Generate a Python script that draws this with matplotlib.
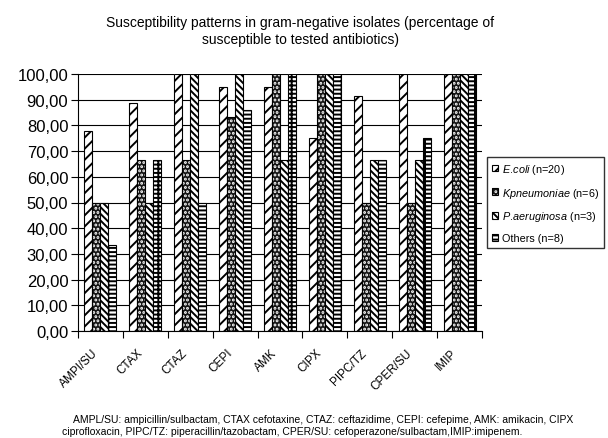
import numpy as np
import matplotlib
matplotlib.use('Agg')
import matplotlib.pyplot as plt
from matplotlib.ticker import FuncFormatter, FixedLocator
from matplotlib.transforms import ScaledTranslation

plt.rcParams['font.family'] = ['Liberation Sans', 'DejaVu Sans']
plt.rcParams['mathtext.fontset'] = 'custom'
plt.rcParams['mathtext.rm'] = 'Liberation Sans'
plt.rcParams['mathtext.it'] = 'Liberation Sans:italic'
plt.rcParams['hatch.linewidth'] = 1.4

# data
categories = ['AMPI/SU', 'CTAX', 'CTAZ', 'CEPI', 'AMK', 'CIPX', 'PIPC/TZ', 'CPER/SU', 'IMIP']
ecoli = [77.8, 88.9, 100, 95, 95, 75, 91.3, 100, 100]
kpneu = [50, 66.7, 66.7, 83.3, 100, 100, 50, 50, 100]
paeru = [50, 50, 100, 100, 66.7, 100, 66.7, 66.7, 100]
others = [33.3, 66.7, 50, 86.1, 100, 100, 66.7, 75, 100]
labels = [r'$\it{E.\!coli}$ (n=20)', r'$\it{Kpneumoniae}$ (n=6)',
          r'$\it{P.\!aeruginosa}$ (n=3)', 'Others (n=8)']

title = ('Susceptibility patterns in gram-negative isolates (percentage of\n'
         'susceptible to tested antibiotics)')
foot1 = ('AMPL/SU: ampicillin/sulbactam, CTAX cefotaxine, CTAZ: ceftazidime, '
         'CEPI: cefepime, AMK: amikacin, CIPX')
foot2 = ('ciprofloxacin, PIPC/TZ: piperacillin/tazobactam, '
         'CPER/SU: cefoperazone/sulbactam,IMIP:imipenem.')

fig = plt.figure(figsize=(6.08, 4.39), dpi=100)
ax = fig.add_axes([78 / 608, 1 - 332 / 439, 404 / 608, 257 / 439])

x = np.arange(len(categories))
w = 0.178
styles = [('white', 'black', '///'),
          ('#141414', 'white', '....'),
          ('white', 'black', '\\\\\\\\\\'),
          ('white', 'black', '----|')]
handles = []
for i, (vals, (fc, hc, h)) in enumerate(zip([ecoli, kpneu, paeru, others], styles)):
    pos = x + (i - 1.5) * w
    b1 = ax.bar(pos, vals, w, color=fc, edgecolor=hc, hatch=h, linewidth=0)
    b2 = ax.bar(pos, vals, w, fill=False, edgecolor='black', linewidth=0.8)
    handles.append((b1[0], b2[0]))

ax.set_xlim(-0.5, len(categories) - 0.5)
ax.set_ylim(0, 100)
ax.set_yticks(np.arange(0, 101, 10))
ax.yaxis.set_major_formatter(FuncFormatter(lambda v, p: ('%.2f' % v).replace('.', ',')))
ax.yaxis.grid(True, color='black', linewidth=0.8)
ax.set_axisbelow(True)
ax.tick_params(axis='y', labelsize=12, length=5, width=0.8, pad=2)

ax.set_xticks(x)
ax.set_xticklabels(categories, rotation=45, ha='right', rotation_mode='anchor', fontsize=8.5)
ax.tick_params(axis='x', which='major', length=0, pad=14)
shift = ScaledTranslation(-9 / 100, 4 / 100, fig.dpi_scale_trans)
for lbl in ax.get_xticklabels():
    lbl.set_transform(lbl.get_transform() + shift)
ax.xaxis.set_minor_locator(FixedLocator(np.arange(-0.5, len(categories), 1)))
ax.tick_params(axis='x', which='minor', length=5, width=0.8)

for s in ['top', 'right']:
    ax.spines[s].set_visible(False)
for s in ['left', 'bottom']:
    ax.spines[s].set_linewidth(0.8)

fig.text(300 / 608, 1 - 16 / 439, title, ha='center', va='top', fontsize=10, linespacing=1.3)

fig.legend(handles, labels, loc='upper left', bbox_to_anchor=(487 / 608, 1 - 158 / 439),
           fontsize=7.8, frameon=True, fancybox=False, edgecolor='black',
           handlelength=0.6, handleheight=0.6, handletextpad=0.35,
           labelspacing=0.9, borderpad=0.45, borderaxespad=0)

fig.text(73 / 608, 1 - 420 / 439, foot1, ha='left', va='center', fontsize=7.5)
fig.text(62 / 608, 1 - 432 / 439, foot2, ha='left', va='center', fontsize=7.5)

fig.savefig('out.png', dpi=100)
